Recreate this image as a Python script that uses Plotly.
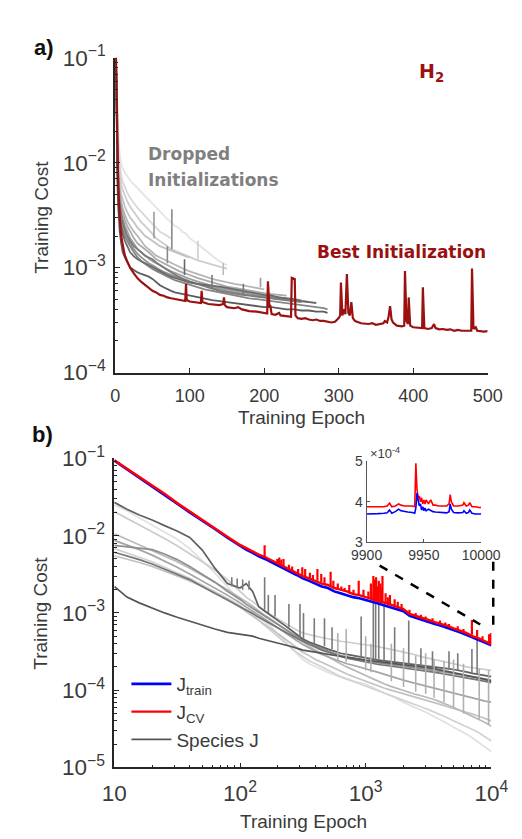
import plotly.graph_objects as go

W, H = 522, 839

# ---------------- panel a : H2 initializations ----------------
A_BEST_EPOCH = [1, 2, 3, 4, 5, 6, 7, 9, 11, 13,
                16, 20, 25, 30, 35, 40, 45, 50, 55, 60,
                65, 70, 75, 80, 85, 90, 94, 95, 96, 100,
                105, 110, 115, 116, 117, 125, 130, 140, 145, 146,
                147, 150, 160, 165, 170, 180, 190, 200, 204, 205,
                207, 208, 210, 215, 220, 222, 230, 236, 237, 241,
                242, 245, 250, 255, 260, 265, 270, 275, 280, 285,
                290, 295, 298, 300, 302, 303, 305, 307, 309, 311,
                313, 315, 317, 319, 322, 330, 340, 345, 350, 355,
                360, 362, 365, 367, 369, 371, 373, 378, 385, 388,
                389, 391, 393, 394, 396, 400, 405, 410, 412, 413,
                415, 420, 425, 428, 430, 435, 440, 445, 450, 455,
                460, 465, 470, 475, 478, 479, 481, 484, 486, 490,
                495, 500]
A_BEST_COST = [0.1, 0.025, 0.0105, 0.006, 0.0042, 0.0031, 0.0024, 0.0018, 0.0015, 0.0013,
               0.00115, 0.001, 0.00088, 0.00079, 0.00073, 0.00068, 0.00064, 0.0006, 0.00058, 0.00055,
               0.00054, 0.00052, 0.00051, 0.0005, 0.00049, 0.000485, 0.00048, 0.0007, 0.00049, 0.000475,
               0.00047, 0.000465, 0.00046, 0.0006, 0.00047, 0.00045, 0.000445, 0.00044, 0.00045, 0.00052,
               0.00044, 0.00042, 0.00041, 0.00042, 0.0004, 0.000385, 0.00038, 0.00037, 0.000365, 0.00074,
               0.00042, 0.00044, 0.00036, 0.000355, 0.00037, 0.00035, 0.000345, 0.00034, 0.0008, 0.00078,
               0.00035, 0.00033, 0.000325, 0.00033, 0.00032, 0.000315, 0.00032, 0.00031, 0.00031, 0.000305,
               0.0003, 0.000305, 0.00032, 0.00033, 0.00035, 0.00072, 0.00035, 0.0004, 0.00036, 0.00087,
               0.00037, 0.00035, 0.00047, 0.00033, 0.00031, 0.000295, 0.00029, 0.000295, 0.000285, 0.00029,
               0.000295, 0.00031, 0.0003, 0.00034, 0.00043, 0.00032, 0.0003, 0.00028, 0.000275, 0.00028,
               0.00093, 0.00031, 0.00029, 0.00052, 0.00028, 0.00027, 0.000268, 0.00027, 0.000265, 0.00065,
               0.000265, 0.00026, 0.000265, 0.00029, 0.000265, 0.000258, 0.00026, 0.000255, 0.000258, 0.00025,
               0.000255, 0.00025, 0.000252, 0.00025, 0.00025, 0.00098, 0.00026, 0.00027, 0.00025, 0.000248,
               0.000245, 0.000248]

A_GRID = [1, 2, 3, 4, 5, 6, 8, 10, 13, 16, 20, 25, 30, 35, 40, 45, 50, 55, 60, 65, 70, 75, 80,
          85, 90, 95, 100, 110, 120, 130, 140, 150, 160, 170, 180, 190, 200, 210, 220, 230,
          240, 250, 260, 270, 280, 285]

A_DROP_1 = [0.1, 0.05, 0.03, 0.02, 0.015, 0.012, 0.0098, 0.0088, 0.0080, 0.0074,
            0.0068, 0.0062, 0.0057, 0.0052, 0.0048, 0.0044, 0.0040, 0.0037, 0.0034, 0.0031,
            0.0029, 0.0027, 0.0025, 0.0024, 0.0022, 0.0021, 0.0019, 0.0017, 0.00148, 0.0013,
            0.00115, 0.00105]
A_DROP_2 = [0.1, 0.04, 0.022, 0.015, 0.011, 0.0092, 0.0075, 0.0066, 0.0058, 0.0052,
            0.0046, 0.0041, 0.0037, 0.0034, 0.0031, 0.0028, 0.0026, 0.0024, 0.0022, 0.0021,
            0.0020, 0.0019]
A_DROP_3 = [0.1, 0.035, 0.018, 0.012, 0.0092, 0.0076, 0.0062, 0.0055, 0.0048, 0.0043,
            0.0038, 0.0034, 0.0030, 0.0027, 0.0025, 0.0023, 0.0021, 0.0019, 0.0018, 0.0017,
            0.0016, 0.0015, 0.00145, 0.0014, 0.00135, 0.0013, 0.00125, 0.00118, 0.00112, 0.00106,
            0.00102, 0.00098]
A_DROP_4 = [0.1, 0.03, 0.015, 0.0095, 0.0072, 0.0060, 0.0050, 0.0044, 0.0038, 0.0034,
            0.0030, 0.0027, 0.0024, 0.0022, 0.0020, 0.0019, 0.0018, 0.0017, 0.0016, 0.00155,
            0.0015, 0.00145, 0.0014, 0.00135, 0.0013, 0.00128, 0.00125]
A_DROP_5 = [0.1, 0.028, 0.013, 0.0085, 0.0063, 0.0052, 0.0043, 0.0037, 0.0032, 0.0028,
            0.0025, 0.0022, 0.0020, 0.0018, 0.0016, 0.0015, 0.0014, 0.0013, 0.00125, 0.0012,
            0.00115, 0.0011, 0.00106, 0.00102, 0.00098, 0.00095, 0.00092, 0.00087, 0.00082, 0.00078,
            0.00075, 0.00072, 0.0007, 0.00068, 0.00066, 0.00064, 0.00062]
A_DROP_6 = [0.1, 0.025, 0.012, 0.0075, 0.0056, 0.0046, 0.0038, 0.0033, 0.0028, 0.0025,
            0.0022, 0.0019, 0.0017, 0.0016, 0.0015, 0.0014, 0.0013, 0.0012, 0.00115, 0.0011,
            0.00105, 0.001, 0.00096, 0.00093, 0.0009, 0.00087, 0.00085, 0.0008, 0.00076, 0.00072,
            0.00069, 0.00066, 0.00064, 0.00062, 0.0006, 0.00058, 0.00057, 0.00056, 0.00055, 0.00054]
A_DROP_7 = [0.1, 0.022, 0.011, 0.0068, 0.005, 0.0041, 0.0034, 0.0029, 0.0025, 0.0022,
            0.0019, 0.0017, 0.0015, 0.0014, 0.0013, 0.00122, 0.00115, 0.0011, 0.00104, 0.001,
            0.00096, 0.00092, 0.00089, 0.00086, 0.00083, 0.0008, 0.00078, 0.00074, 0.0007, 0.00067,
            0.00064, 0.00062, 0.0006, 0.00058, 0.00057, 0.00055, 0.00054, 0.00053, 0.00052, 0.00051,
            0.0005, 0.00049]
A_DROP_8 = [0.1, 0.02, 0.0095, 0.006, 0.0045, 0.0037, 0.003, 0.0026, 0.0022, 0.002,
            0.0017, 0.0015, 0.00135, 0.00125, 0.00117, 0.0011, 0.00105, 0.001, 0.00095, 0.00091,
            0.00088, 0.00085, 0.00082, 0.00079, 0.00077, 0.00075, 0.00073, 0.0007, 0.00067, 0.00064,
            0.00062, 0.0006, 0.00058, 0.00056, 0.00055, 0.00054, 0.00053, 0.00052, 0.00051, 0.0005,
            0.00049, 0.00048, 0.00047]
A_DROP_9 = [0.1, 0.018, 0.0085, 0.0054, 0.0041, 0.0033, 0.0027, 0.0023, 0.002, 0.0018,
            0.0016, 0.0014, 0.00125, 0.00115, 0.00108, 0.00102, 0.00097, 0.00093, 0.00089, 0.00085,
            0.00082, 0.00079, 0.00076, 0.00074, 0.00072, 0.0007, 0.00068, 0.00065, 0.00062, 0.0006,
            0.00058, 0.00056, 0.00054, 0.00052, 0.00051, 0.0005, 0.00049, 0.00048, 0.00047, 0.00046,
            0.00045, 0.00044, 0.00043, 0.00042, 0.00041, 0.0004]
A_DROP_10 = [0.1, 0.024, 0.012, 0.0072, 0.0052, 0.0041, 0.0032, 0.0027, 0.0023, 0.002,
             0.0018, 0.0016, 0.0015, 0.0014, 0.0013, 0.00125, 0.0012, 0.00112, 0.00105, 0.001,
             0.00095, 0.0009, 0.00086, 0.00082, 0.00079, 0.00076, 0.00074, 0.0007, 0.00066, 0.00063,
             0.0006, 0.00058, 0.00056, 0.00055, 0.00054, 0.00053, 0.00052, 0.00051, 0.0005, 0.00049,
             0.00048, 0.00047]
A_DROP_11 = [0.1, 0.017, 0.008, 0.0052, 0.004, 0.0032, 0.0025, 0.0021, 0.0018, 0.0016,
             0.0014, 0.00128, 0.0012, 0.00115, 0.0011, 0.00105, 0.001, 0.00096, 0.00092, 0.00088,
             0.00085, 0.00082, 0.0008, 0.00078, 0.00076, 0.00074, 0.00072, 0.0007, 0.00069, 0.00068,
             0.00066, 0.00064, 0.00062, 0.0006, 0.00058, 0.00056, 0.00055, 0.00054, 0.00052, 0.00051,
             0.0005, 0.00048, 0.00047, 0.00046]
A_DROP_12 = [0.1, 0.014, 0.0062, 0.0038, 0.0028, 0.0022, 0.0017, 0.0014, 0.00125, 0.00112,
             0.001, 0.00095, 0.0009, 0.00087, 0.00085, 0.00082, 0.00078, 0.00072, 0.00068, 0.00065,
             0.00062, 0.0006, 0.00058, 0.00057, 0.00056, 0.00055, 0.00054, 0.00052, 0.0005, 0.00049,
             0.00048, 0.00047, 0.00046, 0.00045, 0.00044, 0.00043, 0.00042, 0.00042, 0.00041, 0.0004,
             0.0004, 0.00039, 0.00039, 0.00038, 0.00038, 0.00037]
A_DROP_COLORS = ["#e4e4e4", "#d8d8d8", "#cdcdcd", "#c2c2c2", "#b6b6b6", "#aaaaaa",
                 "#9e9e9e", "#929292", "#868686", "#7a7a7a", "#6a6a6a", "#5c5c5c"]

A_SPIKE_EPOCH = [52, 70, 76, 93, 111, 130, 145, 172, 195]
A_SPIKE_LOW = [0.0019, 0.0011, 0.0015, 0.00085, 0.0012, 0.00065, 0.00085, 0.00055, 0.00065]
A_SPIKE_HIGH = [0.0034, 0.0016, 0.0036, 0.0012, 0.0018, 0.00085, 0.0011, 0.0007, 0.0008]
A_SPIKE_COLORS = ["#9a9a9a", "#8a8a8a", "#8a8a8a", "#666666", "#cccccc", "#777777",
                  "#bbbbbb", "#777777", "#999999"]

# ---------------- panel b : species training ----------------
B_EPOCH = [10, 12.6, 15.8, 20, 25.1, 31.6, 39.8, 50.1, 63.1, 79.4,
           100, 112, 126, 141, 158, 178, 200, 224, 251, 282,
           316, 355, 398, 447, 501, 562, 631, 708, 794, 891,
           1000, 1122, 1259, 1413, 1585, 1778, 1995, 2239, 2512, 2818,
           3162, 3548, 3981, 4467, 5012, 5623, 6310, 7079, 7943, 8913, 10000]
B_JTRAIN = [0.094, 0.073, 0.057, 0.044, 0.034, 0.026, 0.020, 0.0157, 0.0122, 0.0094,
            0.0073, 0.0066, 0.0060, 0.0054, 0.0050, 0.0045, 0.0041, 0.0037, 0.0034, 0.0031,
            0.0028, 0.0026, 0.0024, 0.0022, 0.0021, 0.0019, 0.0018, 0.0017, 0.0016, 0.00155,
            0.00148, 0.0014, 0.00132, 0.00125, 0.00118, 0.00111, 0.00105, 0.00092, 0.00087, 0.00082,
            0.00077, 0.00072, 0.00068, 0.00064, 0.0006, 0.00056, 0.00052, 0.00048, 0.00045, 0.00041, 0.00038]
B_JCV = [0.095, 0.074, 0.058, 0.045, 0.035, 0.0265, 0.0205, 0.016, 0.0125, 0.0097,
         0.0076, 0.0069, 0.0063, 0.0057, 0.0053, 0.0048, 0.0044, 0.004, 0.0036, 0.0033,
         0.003, 0.0028, 0.0026, 0.0024, 0.0023, 0.0021, 0.002, 0.0019, 0.00175, 0.0017,
         0.0016, 0.00152, 0.00144, 0.00136, 0.00128, 0.0012, 0.00112, 0.00097, 0.00092, 0.00087,
         0.00081, 0.00076, 0.00072, 0.00068, 0.00063, 0.00059, 0.00055, 0.0005, 0.00047, 0.00043, 0.000395]
B_CV_SPIKE_EPOCH = [157, 198, 205, 213, 222, 245, 260, 290, 313, 330, 360, 380, 413, 443, 470,
                    526, 553, 600, 640, 680, 740, 800, 880, 960, 1050, 1100, 1150, 1180, 1210,
                    1240, 1270, 1310, 1330, 1360, 1440, 1500, 1560, 1700, 1800, 1930, 2230,
                    2500, 2750, 3000, 3400, 3900, 4300, 4600, 5400, 6000, 7000, 7700, 8500,
                    9600, 9950]
B_CV_SPIKE_LOW = [0.0051, 0.0043, 0.0042, 0.0041, 0.004, 0.0037, 0.0035, 0.0032, 0.003, 0.0029,
                  0.0028, 0.0027, 0.0026, 0.0025, 0.0024, 0.0022, 0.0021, 0.002, 0.00195, 0.0019,
                  0.0018, 0.00172, 0.00165, 0.0016, 0.00155, 0.0015, 0.00145, 0.00143, 0.0014,
                  0.0014, 0.00138, 0.00136, 0.00135, 0.00134, 0.0013, 0.00127, 0.00126, 0.0012,
                  0.00118, 0.00112, 0.00095, 0.00092, 0.00088, 0.00085, 0.00079, 0.00073, 0.00069,
                  0.00067, 0.00062, 0.00057, 0.00052, 0.00049, 0.00045, 0.00041, 0.0004]
B_CV_SPIKE_HIGH = [0.0075, 0.005, 0.0052, 0.0049, 0.005, 0.0042, 0.004, 0.0037, 0.0039, 0.0037,
                   0.0033, 0.0031, 0.0037, 0.0032, 0.0029, 0.0034, 0.0026, 0.0024, 0.0022, 0.0021,
                   0.0023, 0.002, 0.0026, 0.002, 0.0019, 0.0024, 0.003, 0.0027, 0.0029,
                   0.0022, 0.0026, 0.0024, 0.0021, 0.003, 0.0018, 0.0016, 0.0017, 0.0015,
                   0.0014, 0.0013, 0.0011, 0.001, 0.00095, 0.0009, 0.00085, 0.0008, 0.00075,
                   0.00072, 0.00067, 0.00062, 0.00081, 0.0006, 0.0005, 0.00053, 0.00055]

B_SPECIES_1 = [0.027, 0.022, 0.0185, 0.016, 0.0135, 0.0115, 0.0095, 0.0065, 0.0038, 0.0024,
               0.0021, 0.0024, 0.0019, 0.0012, 0.00105, 0.00092, 0.0008, 0.0007, 0.00061, 0.00053,
               0.00046, 0.00042, 0.00039, 0.00036, 0.00034, 0.00032, 0.0003, 0.00029, 0.00028, 0.00027,
               0.00026, 0.00025, 0.000245, 0.00024, 0.000235, 0.00023, 0.000225, 0.00022, 0.000215, 0.00021,
               0.000205, 0.0002, 0.000195, 0.00019, 0.000185, 0.00018, 0.000172, 0.000165, 0.00016, 0.000155, 0.00015]
B_SPECIES_2 = [0.025, 0.021, 0.017, 0.0138, 0.0112, 0.009, 0.0068, 0.0047, 0.0033, 0.0022,
               0.00135, 0.00118, 0.00102, 0.0009, 0.00078, 0.00066, 0.00052, 0.00044, 0.00036, 0.0003,
               0.00025, 0.00022, 0.0002, 0.000185, 0.00017, 0.000158, 0.000148, 0.000138, 0.00013, 0.000125,
               0.00012, 0.00011, 0.0001, 9.2e-5, 8.5e-5, 7.8e-5, 7.0e-5, 6.4e-5, 5.9e-5, 5.4e-5,
               5.0e-5, 4.5e-5, 4.1e-5, 3.7e-5, 3.3e-5, 3.0e-5, 2.7e-5, 2.4e-5, 2.1e-5, 1.85e-5, 1.6e-5]
B_SPECIES_3 = [0.0205, 0.0168, 0.0138, 0.0112, 0.0092, 0.0074, 0.0059, 0.0046, 0.0036, 0.0027,
               0.0019, 0.0016, 0.0014, 0.0012, 0.00105, 0.00093, 0.00083, 0.00075, 0.00066, 0.0006,
               0.00055, 0.00052, 0.0005, 0.00048, 0.00046, 0.00044, 0.00043, 0.00042, 0.00041, 0.0004,
               0.00039, 0.00038, 0.000365, 0.00035, 0.00034, 0.000325, 0.00031, 0.0003, 0.000285, 0.00027,
               0.00026, 0.00025, 0.00024, 0.00023, 0.00022, 0.00021, 0.0002, 0.000195, 0.00019, 0.000185, 0.00018]
B_SPECIES_4 = [0.0106, 0.009, 0.0076, 0.0064, 0.0054, 0.0046, 0.0038, 0.0031, 0.0025, 0.002,
               0.0016, 0.0014, 0.00122, 0.00106, 0.00093, 0.00082, 0.00072, 0.00063, 0.00055, 0.00048,
               0.00042, 0.00037, 0.00033, 0.0003, 0.00027, 0.00024, 0.00022, 0.0002, 0.000185, 0.00017,
               0.000155, 0.000142, 0.00013, 0.00012, 0.000112, 0.000105, 9.8e-5, 9.2e-5, 8.8e-5, 8.4e-5,
               8.0e-5, 7.5e-5, 7.0e-5, 6.5e-5, 6.0e-5, 5.5e-5, 5.0e-5, 4.6e-5, 4.2e-5, 3.8e-5, 3.4e-5]
B_SPECIES_5 = [0.0087, 0.0076, 0.0066, 0.0056, 0.0047, 0.0039, 0.0032, 0.0026, 0.0021, 0.0017,
               0.00135, 0.0012, 0.00106, 0.00094, 0.00083, 0.00073, 0.00064, 0.00057, 0.0005, 0.00044,
               0.00039, 0.00035, 0.00032, 0.00029, 0.00027, 0.00025, 0.000235, 0.00022, 0.00021, 0.0002,
               0.00019, 0.00018, 0.00017, 0.00016, 0.00015, 0.000142, 0.000135, 0.000128, 0.000122, 0.000116,
               0.00011, 0.000105, 0.0001, 9.5e-5, 9.0e-5, 8.6e-5, 8.2e-5, 7.8e-5, 7.5e-5, 7.2e-5, 7.0e-5]
B_SPECIES_6 = [0.0075, 0.0072, 0.007, 0.0066, 0.0058, 0.0049, 0.004, 0.0032, 0.0025, 0.0019,
               0.0015, 0.0013, 0.00115, 0.001, 0.0009, 0.0008, 0.0007, 0.00062, 0.00055, 0.00049,
               0.00044, 0.0004, 0.00037, 0.00034, 0.00032, 0.0003, 0.00028, 0.00027, 0.00026, 0.00025,
               0.00024, 0.00023, 0.000225, 0.00022, 0.000215, 0.00021, 0.000205, 0.0002, 0.000195, 0.00019,
               0.000185, 0.00018, 0.000175, 0.00017, 0.000165, 0.00016, 0.000155, 0.00015, 0.000145, 0.00014, 0.000135]
B_SPECIES_7 = [0.0061, 0.0055, 0.0049, 0.0043, 0.0037, 0.0032, 0.0027, 0.0022, 0.0018, 0.0015,
               0.0012, 0.0011, 0.00098, 0.00088, 0.00079, 0.00071, 0.00064, 0.00058, 0.00052, 0.00047,
               0.00043, 0.00039, 0.00036, 0.00033, 0.00031, 0.00029, 0.000275, 0.00026, 0.00025, 0.00024,
               0.00023, 0.00022, 0.000215, 0.00021, 0.000205, 0.0002, 0.000195, 0.00019, 0.000185, 0.00018,
               0.000175, 0.00017, 0.000165, 0.00016, 0.000155, 0.00015, 0.000145, 0.00014, 0.000135, 0.00013, 0.000125]
B_SPECIES_8 = [0.0022, 0.0016, 0.00135, 0.00115, 0.001, 0.00088, 0.00078, 0.0007, 0.00062, 0.00056,
               0.00053, 0.00051, 0.0005, 0.00047, 0.00045, 0.00043, 0.00041, 0.00039, 0.00037, 0.00035,
               0.00033, 0.00032, 0.00031, 0.0003, 0.00029, 0.00028, 0.00027, 0.000265, 0.00026, 0.00025,
               0.000245, 0.00024, 0.000235, 0.00023, 0.000225, 0.00022, 0.000215, 0.00021, 0.000205, 0.0002,
               0.000195, 0.00019, 0.000182, 0.000175, 0.00017, 0.000162, 0.000155, 0.00015, 0.000145, 0.000138, 0.00013]
B_SPECIES_9 = [0.0068, 0.006, 0.0053, 0.0046, 0.0039, 0.0033, 0.0028, 0.0023, 0.0019, 0.00155,
               0.00125, 0.0011, 0.00094, 0.0008, 0.00068, 0.00058, 0.00049, 0.00042, 0.00036, 0.00031,
               0.00027, 0.00024, 0.00022, 0.0002, 0.00018, 0.000165, 0.00015, 0.00014, 0.00013, 0.00012,
               0.000112, 0.000105, 9.8e-5, 9.1e-5, 8.5e-5, 7.9e-5, 7.3e-5, 6.8e-5, 6.4e-5, 6.0e-5,
               5.6e-5, 5.2e-5, 4.8e-5, 4.4e-5, 4.0e-5, 3.7e-5, 3.4e-5, 3.1e-5, 2.8e-5, 2.5e-5, 2.2e-5]
B_SPECIES_10 = [0.0055, 0.005, 0.0045, 0.004, 0.0035, 0.003, 0.0026, 0.0022, 0.0018, 0.0015,
                0.00118, 0.00104, 0.00092, 0.00081, 0.00071, 0.00062, 0.00054, 0.00047, 0.00041, 0.00036,
                0.00031, 0.00028, 0.00025, 0.00023, 0.00021, 0.00019, 0.000175, 0.000162, 0.00015, 0.00014,
                0.00013, 0.00012, 0.000113, 0.000106, 0.0001, 9.5e-5, 9.0e-5, 8.5e-5, 8.1e-5, 7.7e-5,
                7.3e-5, 6.9e-5, 6.5e-5, 6.1e-5, 5.8e-5, 5.5e-5, 5.2e-5, 4.9e-5, 4.6e-5, 4.3e-5, 4.0e-5]
B_SPECIES_COLORS = ["#606060", "#e0e0e0", "#cccccc", "#b9b9b9", "#a5a5a5",
                    "#8e8e8e", "#767676", "#555555", "#d2d2d2", "#c2c2c2"]

B_DARK_SPIKE_EPOCH = [86, 95, 105, 118, 157, 168, 190, 245, 300, 320, 390, 470, 540, 920,
                      1150, 1200, 1270, 1400, 1700, 2200, 2750, 3400, 4600, 5400, 7000, 7700]
B_DARK_SPIKE_LOW = [0.0022, 0.0021, 0.002, 0.002, 0.0011, 0.001, 0.0009, 0.00065, 0.00048, 0.00046,
                    0.0004, 0.00037, 0.00034, 0.00027, 0.00025, 0.00025, 0.000245, 0.00024, 0.00023,
                    0.00022, 0.000205, 0.000195, 0.000185, 0.00018, 0.000165, 0.00016]
B_DARK_SPIKE_HIGH = [0.0029, 0.0028, 0.0027, 0.0026, 0.0029, 0.0017, 0.0017, 0.0013, 0.0013, 0.001,
                     0.00085, 0.00085, 0.00065, 0.0009, 0.0018, 0.0013, 0.0014, 0.0013, 0.00065,
                     0.0008, 0.00035, 0.00032, 0.00032, 0.0003, 0.00034, 0.00046]
B_LIGHT_SPIKE_EPOCH = [600, 700, 1000, 1100, 1600, 2000, 2500, 3000, 3500, 4200, 5000, 6000, 8000, 9500]
B_LIGHT_SPIKE_LOW = [0.00025, 0.00023, 0.00018, 0.00017, 0.00013, 0.00011, 9.5e-5, 9e-5, 8e-5,
                     7e-5, 6e-5, 5e-5, 4.2e-5, 3.6e-5]
B_LIGHT_SPIKE_HIGH = [0.00055, 0.00062, 0.0005, 0.0004, 0.0004, 0.00035, 0.00028, 0.0003, 0.00025,
                      0.00024, 0.00025, 0.00022, 0.00019, 0.00018]

# ---------------- inset : last 100 epochs (units of 1e-4) ----------------
INSET_EPOCH = [9900, 9905, 9910, 9915, 9918, 9920, 9922, 9925, 9928, 9930,
               9933, 9936, 9940, 9942, 9943, 9944, 9945, 9946, 9947, 9948,
               9949, 9950, 9951, 9952, 9954, 9956, 9958, 9960, 9963, 9966,
               9970, 9972, 9973, 9974, 9976, 9980, 9984, 9985, 9987, 9989,
               9990, 9992, 9995, 9998, 10000]
INSET_JCV = [3.88, 3.88, 3.89, 3.88, 3.9, 3.97, 3.88, 3.9, 3.95, 3.92,
             3.9, 3.9, 3.9, 3.88, 4.95, 4.3, 4.1, 4.15, 4.0, 4.1,
             3.95, 4.05, 3.95, 4.05, 3.95, 4.05, 3.92, 3.92, 3.9, 3.9,
             3.9, 3.95, 4.18, 4.0, 3.9, 3.9, 3.92, 3.98, 3.9, 3.92,
             3.98, 3.88, 3.88, 3.86, 3.86]
INSET_JTRAIN = [3.7, 3.7, 3.71, 3.72, 3.73, 3.8, 3.72, 3.76, 3.82, 3.78,
                3.76, 3.75, 3.74, 3.72, 3.85, 4.22, 4.05, 3.9, 3.95, 3.8,
                3.88, 3.78, 3.85, 3.78, 3.82, 3.78, 3.76, 3.75, 3.74, 3.73,
                3.73, 3.76, 3.95, 3.82, 3.74, 3.73, 3.74, 3.78, 3.72, 3.74,
                3.8, 3.72, 3.7, 3.7, 3.7]

A_X_TICKS = [0, 100, 200, 300, 400, 500]
INSET_X_TICKS = [9900, 9950, 10000]
INSET_X_LABELS = ["9900", "9950", "10000"]
INSET_Y_TICKS = [3, 4, 5]
INSET_Y_LABELS = ["3", "4", "5"]

# ---------------- build figure ----------------
FONT = "Liberation Sans, Arial, Helvetica, sans-serif"
AX = "#262626"
TXT = "#3a3a3a"
DARKRED = "#9b1010"


def px(x):
    return x / W


def py(y):
    return 1 - y / H


def spikes(ep, lo, hi):
    xs, ys = [], []
    for e, l, h in zip(ep, lo, hi):
        xs += [e, e, None]
        ys += [l, h, None]
    return xs, ys


fig = go.Figure()

# panel a
drops = [A_DROP_1, A_DROP_2, A_DROP_3, A_DROP_4, A_DROP_5, A_DROP_6,
         A_DROP_7, A_DROP_8, A_DROP_9, A_DROP_10, A_DROP_11, A_DROP_12]
for vals, col in zip(drops, A_DROP_COLORS):
    fig.add_trace(go.Scatter(x=A_GRID[:len(vals)], y=vals, mode="lines",
                             line=dict(color=col, width=1.8), showlegend=False,
                             xaxis="x", yaxis="y", hoverinfo="skip"))
for e, l, h, c in zip(A_SPIKE_EPOCH, A_SPIKE_LOW, A_SPIKE_HIGH, A_SPIKE_COLORS):
    fig.add_trace(go.Scatter(x=[e, e], y=[l, h], mode="lines", line=dict(color=c, width=1.6),
                             showlegend=False, xaxis="x", yaxis="y", hoverinfo="skip"))
fig.add_trace(go.Scatter(x=A_BEST_EPOCH, y=A_BEST_COST, mode="lines",
                         line=dict(color=DARKRED, width=2.2), showlegend=False,
                         xaxis="x", yaxis="y", hoverinfo="skip"))

# panel b
species = [B_SPECIES_1, B_SPECIES_2, B_SPECIES_3, B_SPECIES_4, B_SPECIES_5,
           B_SPECIES_6, B_SPECIES_7, B_SPECIES_8, B_SPECIES_9, B_SPECIES_10]
order = [1, 2, 8, 9, 3, 4, 5, 6, 0, 7]
for i in order:
    fig.add_trace(go.Scatter(x=B_EPOCH, y=species[i], mode="lines",
                             line=dict(color=B_SPECIES_COLORS[i], width=1.7),
                             name="Species J", showlegend=(i == 7), legendrank=3,
                             xaxis="x2", yaxis="y2", hoverinfo="skip"))
sx, sy = spikes(B_LIGHT_SPIKE_EPOCH, B_LIGHT_SPIKE_LOW, B_LIGHT_SPIKE_HIGH)
fig.add_trace(go.Scatter(x=sx, y=sy, mode="lines", line=dict(color="#b0b0b0", width=1.6),
                         showlegend=False, xaxis="x2", yaxis="y2", hoverinfo="skip"))
sx, sy = spikes(B_DARK_SPIKE_EPOCH, B_DARK_SPIKE_LOW, B_DARK_SPIKE_HIGH)
fig.add_trace(go.Scatter(x=sx, y=sy, mode="lines", line=dict(color="#7a7a7a", width=1.6),
                         showlegend=False, xaxis="x2", yaxis="y2", hoverinfo="skip"))
fig.add_trace(go.Scatter(x=B_EPOCH, y=B_JTRAIN, mode="lines", line=dict(color="#0000ff", width=2.6),
                         name="J<sub>train</sub>", legendrank=1,
                         xaxis="x2", yaxis="y2", hoverinfo="skip"))
sx, sy = spikes(B_CV_SPIKE_EPOCH, B_CV_SPIKE_LOW, B_CV_SPIKE_HIGH)
fig.add_trace(go.Scatter(x=sx, y=sy, mode="lines", line=dict(color="#ff0000", width=2.2),
                         showlegend=False, xaxis="x2", yaxis="y2", hoverinfo="skip"))
fig.add_trace(go.Scatter(x=B_EPOCH, y=B_JCV, mode="lines", line=dict(color="#ff0000", width=2.4),
                         name="J<sub>CV</sub>", legendrank=2,
                         xaxis="x2", yaxis="y2", hoverinfo="skip"))

# inset
fig.add_trace(go.Scatter(x=INSET_EPOCH, y=INSET_JCV, mode="lines", line=dict(color="#ff0000", width=1.6),
                         showlegend=False, xaxis="x3", yaxis="y3", hoverinfo="skip"))
fig.add_trace(go.Scatter(x=INSET_EPOCH, y=INSET_JTRAIN, mode="lines", line=dict(color="#0000ff", width=1.6),
                         showlegend=False, xaxis="x3", yaxis="y3", hoverinfo="skip"))

common = dict(showline=True, linecolor=AX, linewidth=1.6, ticks="inside", ticklen=5,
              tickcolor=AX, tickwidth=1.2, showgrid=False, zeroline=False, mirror=False,
              tickfont=dict(family=FONT, size=18, color=TXT))
minor = dict(ticks="inside", ticklen=3, tickcolor=AX, tickwidth=1, showgrid=False)
inset_common = dict(showline=True, linecolor="#555555", linewidth=1.2, ticks="inside",
                    ticklen=3, tickcolor="#555555", showgrid=False, zeroline=False,
                    tickfont=dict(family=FONT, size=14, color=TXT))

fig.update_layout(
    width=W, height=H, margin=dict(l=0, r=0, t=0, b=0),
    paper_bgcolor="white", plot_bgcolor="rgba(0,0,0,0)",
    font=dict(family=FONT, color=TXT),
    xaxis=dict(domain=[px(98), px(498)], range=[0, 500], tickvals=A_X_TICKS, anchor="y",
               ticklabelstandoff=6, **common),
    yaxis=dict(domain=[py(361), py(35)], type="log", range=[-4, -1], dtick=1,
               exponentformat="power", showexponent="all", anchor="x",
               ticklabelstandoff=4, minor=minor, **common),
    xaxis2=dict(domain=[px(97), px(502)], type="log", range=[1, 4], dtick=1,
                exponentformat="power", showexponent="all", anchor="y2",
                ticklabelstandoff=6, minor=minor, **common),
    yaxis2=dict(domain=[py(770), py(450)], type="log", range=[-5, -1], dtick=1,
                exponentformat="power", showexponent="all", anchor="x2",
                ticklabelstandoff=4, minor=minor, **common),
    xaxis3=dict(domain=[px(368), px(491)], range=[9900, 10000], tickvals=INSET_X_TICKS,
                ticktext=INSET_X_LABELS, anchor="y3", **inset_common),
    yaxis3=dict(domain=[py(537), py(453)], range=[3, 5], tickvals=INSET_Y_TICKS,
                ticktext=INSET_Y_LABELS, anchor="x3", **inset_common),
    legend=dict(x=px(110), y=py(664), xanchor="left", yanchor="top",
                bgcolor="rgba(0,0,0,0)", font=dict(family=FONT, size=19, color=TXT),
                itemwidth=40, tracegroupgap=0),
    showlegend=True,
    hovermode=False,
)

ann = []
ann.append(dict(text="<b>a)</b>", x=px(22), y=py(24), font=dict(family=FONT, size=22, color="#111")))
ann.append(dict(text="<b>b)</b>", x=px(20), y=py(425), font=dict(family=FONT, size=22, color="#111")))
ann.append(dict(text="<b>H<sub>2</sub></b>", x=px(438), y=py(50),
                font=dict(family="DejaVu Sans", size=19, color=DARKRED)))
ann.append(dict(text="<b>Dropped</b>", x=px(131), y=py(135), xanchor="left",
                font=dict(family="DejaVu Sans", size=17, color="#7f7f7f")))
ann.append(dict(text="<b>Initializations</b>", x=px(131), y=py(162), xanchor="left",
                font=dict(family="DejaVu Sans", size=17, color="#7f7f7f")))
ann.append(dict(text="<b>Best Initialization</b>", x=px(498), y=py(236), xanchor="right",
                font=dict(family="DejaVu Sans", size=17, color=DARKRED)))
ann.append(dict(text="Training Cost", x=px(18), y=py(200), textangle=-90,
                font=dict(family=FONT, size=19, color=TXT)))
ann.append(dict(text="Training Cost", x=px(18), y=py(610), textangle=-90,
                font=dict(family=FONT, size=19, color=TXT)))
ann.append(dict(text="Training Epoch", x=px(298), y=py(408),
                font=dict(family=FONT, size=19, color=TXT)))
ann.append(dict(text="Training Epoch", x=px(300), y=py(826),
                font=dict(family=FONT, size=19, color=TXT)))
ann.append(dict(text="\u00d710<sup>-4</sup>", x=px(369), y=py(444), xanchor="left",
                font=dict(family=FONT, size=13, color=TXT)))
for a in ann:
    a.update(xref="paper", yref="paper", showarrow=False)
    a.setdefault("xanchor", "center")
    a.setdefault("yanchor", "middle")
fig.update_layout(annotations=ann)

fig.update_layout(shapes=[
    dict(type="line", xref="paper", yref="paper", x0=px(382), y0=py(561), x1=px(490), y1=py(622),
         line=dict(color="black", width=2.5, dash="dash")),
    dict(type="line", xref="paper", yref="paper", x0=px(504), y0=py(557), x1=px(504), y1=py(630),
         line=dict(color="black", width=2.5, dash="dash")),
])

fig.write_html("out.html")
